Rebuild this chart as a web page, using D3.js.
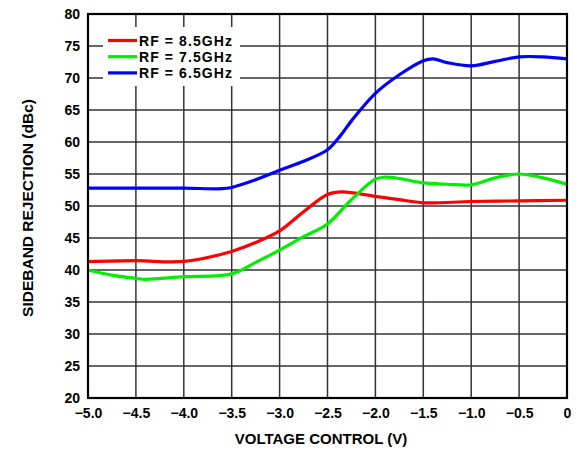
<!DOCTYPE html>
<html><head><meta charset="utf-8">
<script src="https://cdn.jsdelivr.net/npm/d3@7"></script>
<style>
body{margin:0;background:#fff;}
svg text{font-family:"Liberation Sans",Arial,Helvetica,sans-serif;font-weight:bold;fill:#000;}
</style></head>
<body><svg id="c" width="579" height="450"></svg>
<script>
const xTicks = [-5.0,-4.5,-4.0,-3.5,-3.0,-2.5,-2.0,-1.5,-1.0,-0.5,0];
const xTickLabels = ["\u22125.0","\u22124.5","\u22124.0","\u22123.5","\u22123.0","\u22122.5","\u22122.0","\u22121.5","\u22121.0","\u22120.5","0"];
const yTicks = [20,25,30,35,40,45,50,55,60,65,70,75,80];
const seriesNames = ["RF = 8.5GHz","RF = 7.5GHz","RF = 6.5GHz"];
const seriesColors = ["#ff0000","#00ee00","#0000ff"];

const redX = [-5,-4.5,-4.0,-3.5,-3.25,-3.0,-2.75,-2.5,-2.35,-2.0,-1.75,-1.5,-1.0,-0.5,0];
const redY = [41.3,41.45,41.35,42.9,44.3,46.1,49.1,51.8,52.2,51.5,51.0,50.5,50.7,50.8,50.9];
const greenX = [-5,-4.75,-4.5,-4.4,-4.0,-3.5,-3.25,-3.0,-2.75,-2.5,-2.25,-2.0,-1.9,-1.75,-1.5,-1.25,-1.0,-0.75,-0.5,-0.25,0];
const greenY = [40.0,39.2,38.7,38.55,38.95,39.4,41.2,43.1,45.2,47.2,51.0,54.2,54.5,54.3,53.6,53.4,53.3,54.4,55.0,54.4,53.4];
const blueX = [-5,-4.5,-4.0,-3.6,-3.5,-3.25,-3.0,-2.75,-2.5,-2.375,-2.25,-2.0,-1.75,-1.5,-1.4,-1.25,-1.0,-0.75,-0.5,-0.25,0];
const blueY = [52.8,52.8,52.8,52.7,52.9,54.1,55.6,57.0,58.8,60.8,63.3,67.6,70.5,72.7,73.0,72.4,71.9,72.6,73.3,73.3,73.0];

const svg = d3.select("#c");
const L=88,R=567,T=14,B=398;
const x = d3.scaleLinear().domain([-5,0]).range([L,R]);
const y = d3.scaleLinear().domain([20,80]).range([B,T]);

// grid
const g = svg.append("g");
g.selectAll(".vg").data(xTicks.slice(1,-1)).enter().append("line")
 .attr("x1",d=>x(d)).attr("x2",d=>x(d)).attr("y1",T).attr("y2",B)
 .attr("stroke","#333").attr("stroke-width",1.5);
g.selectAll(".hg").data(yTicks.slice(1,-1)).enter().append("line")
 .attr("x1",L).attr("x2",R).attr("y1",d=>y(d)).attr("y2",d=>y(d))
 .attr("stroke","#333").attr("stroke-width",1.5);

// axes labels
const xAxis = d3.axisBottom(x).tickValues(xTicks).tickSize(0).tickPadding(10)
  .tickFormat((d,i)=>xTickLabels[i]);
const xa = svg.append("g").attr("transform",`translate(0,${B})`).call(xAxis);
xa.select(".domain").remove();
xa.selectAll("text").style("font-size","14px").attr("fill","#000");
const yAxis = d3.axisLeft(y).tickValues(yTicks).tickSize(0).tickPadding(8);
const ya = svg.append("g").attr("transform",`translate(${L},0)`).call(yAxis);
ya.select(".domain").remove();
ya.selectAll("text").style("font-size","14px").attr("fill","#000");

// legend box
svg.append("rect").attr("x",103).attr("y",27).attr("width",137).attr("height",59).attr("fill","#fff");

// lines
const data = [[redX,redY],[greenX,greenY],[blueX,blueY]];
const line = d3.line().x(d=>x(d[0])).y(d=>y(d[1])).curve(d3.curveCatmullRom.alpha(0.5));
data.forEach((s,i)=>{
  const pts = s[0].map((v,j)=>[v,s[1][j]]);
  svg.append("path").attr("d",line(pts)).attr("fill","none")
    .attr("stroke",seriesColors[i]).attr("stroke-width",3.2).attr("stroke-linejoin","round");
});

// border
svg.append("rect").attr("x",L).attr("y",T).attr("width",R-L).attr("height",B-T)
  .attr("fill","none").attr("stroke","#000").attr("stroke-width",2.2);

// legend
seriesNames.forEach((n,i)=>{
  const yy = 40.5 + i*16.2;
  svg.append("line").attr("x1",108).attr("x2",137).attr("y1",yy).attr("y2",yy)
    .attr("stroke",seriesColors[i]).attr("stroke-width",3.2);
  svg.append("text").attr("x",139).attr("y",yy+5).style("font-size","14px")
    .attr("textLength",93).attr("lengthAdjust","spacing").text(n);
});

// titles
svg.append("text").attr("x",321).attr("y",444).attr("text-anchor","middle")
  .style("font-size","15px").text("VOLTAGE CONTROL (V)");
svg.append("text").attr("transform","translate(32.5,208) rotate(-90)").attr("text-anchor","middle")
  .style("font-size","15.5px").text("SIDEBAND REJECTION (dBc)");
</script></body></html>
